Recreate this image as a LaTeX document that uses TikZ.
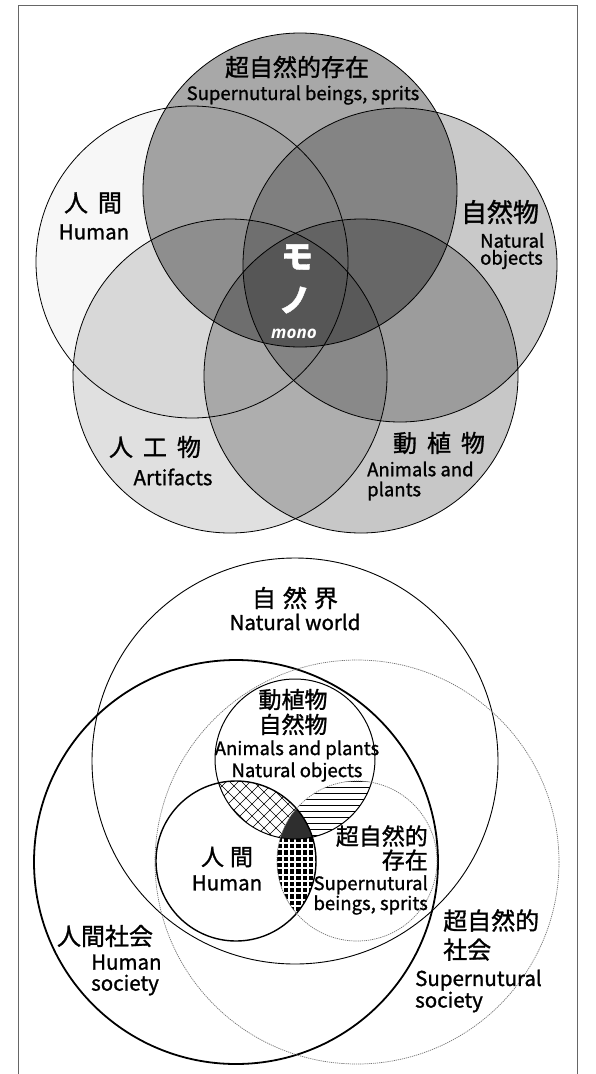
\documentclass[tikz,border=0pt]{standalone}
\usepackage{fontspec}
\setmainfont{Noto Sans CJK JP}[FakeBold=1.2]
\newfontfamily\latit{Open Sans}
\begin{document}
\begin{tikzpicture}[x=1pt,y=-1pt,
  outline/.style={draw=black,line width=0.8pt},
  ghost/.style={draw=black!55,line width=0.7pt,dash pattern=on 1.2pt off 0.9pt},
  jpL/.style={inner sep=0pt,font=\fontsize{24}{29}\selectfont},
  jpXL/.style={inner sep=0pt,font=\fontsize{26}{28}\selectfont},
  jpM/.style={inner sep=0pt,font=\fontsize{23}{25}\selectfont},
  enL/.style={inner sep=0pt,font=\fontsize{20.5}{21}\selectfont},
  enM/.style={inner sep=0pt,font=\fontsize{18.5}{17}\selectfont},
  monoj/.style={inner sep=0pt,text=white,font=\fontsize{32}{34}\selectfont\bfseries},
  monol/.style={inner sep=0pt,text=white,font=\fontsize{17}{18}\selectfont\latit\bfseries\itshape}]
\useasboundingbox (0,0) rectangle (595,1074);
\fill[white] (0,0) rectangle (595,1074);
% frame
\draw[black!60,line width=1pt] (18,1074) -- (18,5) -- (577,5) -- (577,1074);

% ---------- top diagram ----------
\fill[black,opacity=0.03] (192,262) circle[radius=156];
\fill[black,opacity=0.12] (230,376) circle[radius=157];
\fill[black,opacity=0.34] (300,190) circle[radius=157];
\fill[black,opacity=0.21] (400,265) circle[radius=157];
\fill[black,opacity=0.22] (361,376) circle[radius=157];
\draw[outline] (192,262) circle[radius=156];
\draw[outline] (230,376) circle[radius=157];
\draw[outline] (300,190) circle[radius=157];
\draw[outline] (400,265) circle[radius=157];
\draw[outline] (361,376) circle[radius=157];

\node[jpL] (supj) at (297,67) {超自然的存在};
\node[enM] (supe) at (303,95) {Supernutural beings, sprits};
\node[jpL] (humj) at (93,203) {人\hspace{10pt}間};
\node[enL] (hume) at (94,232) {Human};
\node[jpXL] (natj) at (500,212) {自然物};
\node[enM,anchor=west,align=left] (nate) at (480,251) {Natural\\objects};
\node[monoj] (mo1) at (297,257) {モ};
\node[monoj] (mo2) at (295,300) {ノ};
\node[monol] (mo3) at (294,334) {mono};
\node[jpL] (artj) at (155,447) {人\hspace{10pt}工\hspace{10pt}物};
\node[enL] (arte) at (173,477) {Artifacts};
\node[jpL] (anij) at (439,443) {動\hspace{10pt}植\hspace{10pt}物};
\node[enM,anchor=west,align=left,font=\fontsize{18.5}{20}\selectfont] (anie) at (367,481) {Animals and\\plants};

% ---------- bottom diagram ----------
% human & animals (crosshatch)
\begin{scope}
  \clip (236,861) circle[radius=80];
  \clip (295,759) circle[radius=80];
  \foreach \c in {40,52,...,260} \draw[line width=0.6pt] (\c,700) -- ++(200,200);
  \foreach \c in {260,272,...,480} \draw[line width=0.6pt] (\c,700) -- ++(-200,200);
\end{scope}
% animals & supernatural (horizontal lines)
\begin{scope}
  \clip (357,861) circle[radius=80];
  \clip (295,759) circle[radius=80];
  \foreach \y in {781,787,...,850} \draw[line width=0.7pt] (280,\y) -- (400,\y);
\end{scope}
% human & supernatural (black squares)
\begin{scope}
  \clip (357,861) circle[radius=80];
  \clip (236,861) circle[radius=80];
  \fill[black] (260,780) rectangle (340,945);
  \foreach \x in {270,276.3,...,330} \draw[white,line width=2pt] (\x,780) -- (\x,945);
  \foreach \y in {780,786.3,...,945} \draw[white,line width=2pt] (260,\y) -- (340,\y);
\end{scope}
% triple overlap
\begin{scope}
  \clip (357,861) circle[radius=80];
  \clip (236,861) circle[radius=80];
  \fill[black!82] (295,759) circle[radius=80];
\end{scope}

\draw[black,line width=0.9pt] (295,761) circle[radius=203];
\draw[black,line width=1.8pt] (236,862) circle[radius=202];
\draw[ghost] (357,862) circle[radius=202];
\draw[black,line width=1pt] (295,759) circle[radius=80];
\draw[black,line width=1.4pt] (236,861) circle[radius=80];
\draw[ghost] (357,861) circle[radius=80];

\node[jpL] (nwj) at (295,598) {自\hspace{7pt}然\hspace{7pt}界};
\node[enL] (nwe) at (295,622) {Natural world};
\node[jpM,align=center] (apj) at (293,712) {動植物\\自然物};
\node[enM,align=center,font=\fontsize{18.5}{22}\selectfont] (ape) at (297,761) {Animals and plants\\Natural objects};
\node[jpM] (hj2) at (227,857) {人\hspace{6pt}間};
\node[enL] (he2) at (227,883) {Human};
\node[jpM,anchor=east,align=right,font=\fontsize{23}{24}\selectfont] (sj) at (428,848) {超自然的\\存在};
\node[enM,anchor=east,align=right,font=\fontsize{18.5}{18}\selectfont] (se) at (428,895) {Supernutural\\beings, sprits};
\node[jpL] (hsj) at (105,936) {人間社会};
\node[enL,anchor=west,align=left] (hse) at (91,975) {Human\\society};
\node[jpL,anchor=west,align=left] (ssj) at (443,935) {超自然的\\社会};
\node[enL,anchor=west,align=left,font=\fontsize{20.5}{19.5}\selectfont] (sse) at (415,991) {Supernutural\\society};
\end{tikzpicture}
\end{document}
